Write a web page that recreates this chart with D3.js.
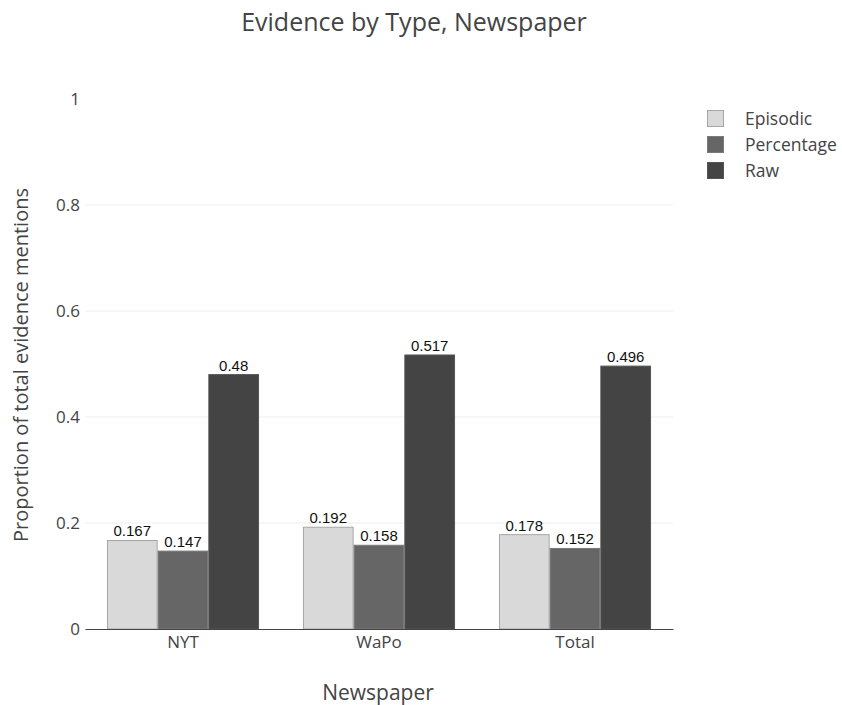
<!DOCTYPE html>
<html><head><meta charset="utf-8">
<script src="https://cdn.jsdelivr.net/npm/d3@7"></script>
<style>body{margin:0;background:#fff}</style>
</head><body>
<script>
const categories = ["NYT", "WaPo", "Total"];
const seriesNames = ["Episodic", "Percentage", "Raw"];
const episodic = [0.167, 0.192, 0.178];
const percentage = [0.147, 0.158, 0.152];
const raw = [0.48, 0.517, 0.496];
const yTicks = [0, 0.2, 0.4, 0.6, 0.8, 1];
const colors = ["#d9d9d9", "#666666", "#444444"];
const strokes = ["#a6a6a6", "#7a7a7a", "#555555"];
const series = [episodic, percentage, raw];

const W = 842, H = 705;
const m = {l: 85, r: 169, t: 99, b: 76};
const svg = d3.select("body").append("svg").attr("width", W).attr("height", H);
const x0 = d3.scaleBand().domain(categories).range([m.l, W - m.r]).paddingInner(0.224).paddingOuter(0.112);
const x1 = d3.scaleBand().domain(seriesNames).range([0, x0.bandwidth()]);
const y = d3.scaleLinear().domain([0, 1]).range([H - m.b, m.t]);
const font = "'Open Sans', sans-serif";

// grid
svg.append("g").selectAll("line").data(yTicks.filter(t => t > 0 && t < 1)).join("line")
  .attr("x1", m.l).attr("x2", W - m.r).attr("y1", d => y(d)).attr("y2", d => y(d))
  .attr("stroke", "#eeeeee").attr("stroke-width", 1);

// y tick labels
const yAxis = d3.axisLeft(y).tickValues(yTicks).tickSize(0).tickPadding(5).tickFormat(d => d3.format("")(d));
const ga = svg.append("g").attr("transform", `translate(${m.l},0)`).call(yAxis);
ga.select(".domain").remove();
ga.selectAll("text").attr("font-family", font).attr("font-size", 17).attr("fill", "#444");

// bars
seriesNames.forEach((s, si) => {
  const g = svg.append("g");
  g.selectAll("rect").data(categories).join("rect")
    .attr("x", c => x0(c) + x1(s) + 0.5)
    .attr("width", x1.bandwidth() - 1)
    .attr("y", (c, i) => y(series[si][i]))
    .attr("height", (c, i) => y(0) - y(series[si][i]))
    .attr("fill", colors[si]).attr("stroke", strokes[si]).attr("stroke-width", 1);
  g.selectAll("text").data(categories).join("text")
    .attr("x", c => x0(c) + x1(s) + x1.bandwidth() / 2)
    .attr("y", (c, i) => y(series[si][i]) - 4)
    .attr("text-anchor", "middle")
    .attr("font-family", "'Liberation Sans', Arial, sans-serif").attr("font-size", 15).attr("fill", "#111")
    .text((c, i) => series[si][i]);
});

// x axis
const xAxis = d3.axisBottom(x0).tickSize(0).tickPadding(7);
const gx = svg.append("g").attr("transform", `translate(0,${y(0)})`).call(xAxis);
gx.select(".domain").attr("stroke", "#444").attr("stroke-width", 1.2);
gx.selectAll("text").attr("font-family", font).attr("font-size", 17).attr("fill", "#444");

// titles
svg.append("text").attr("x", 414).attr("y", 31).attr("text-anchor", "middle")
  .attr("font-family", font).attr("font-size", 25).attr("fill", "#444").text("Evidence by Type, Newspaper");
svg.append("text").attr("x", 378).attr("y", 700).attr("text-anchor", "middle")
  .attr("font-family", font).attr("font-size", 21).attr("fill", "#444").text("Newspaper");
svg.append("text").attr("transform", `translate(28,365) rotate(-90)`).attr("text-anchor", "middle")
  .attr("font-family", font).attr("font-size", 20).attr("fill", "#444").text("Proportion of total evidence mentions");

// legend
const lg = svg.append("g").attr("transform", "translate(707,110)");
seriesNames.forEach((s, i) => {
  lg.append("rect").attr("x", 0.5).attr("y", i * 26 + 0.5).attr("width", 16).attr("height", 16)
    .attr("fill", colors[i]).attr("stroke", strokes[i]);
  lg.append("text").attr("x", 38).attr("y", i * 26 + 15).attr("font-family", font).attr("font-size", 17.5)
    .attr("fill", "#444").text(s);
});
</script>
</body></html>
